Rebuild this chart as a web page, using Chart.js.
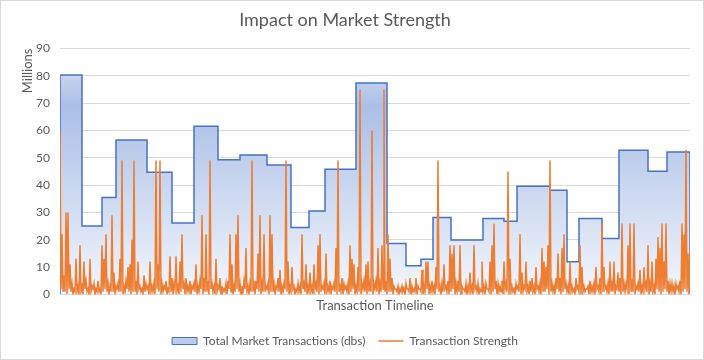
<!DOCTYPE html>
<html>
<head>
<meta charset="utf-8">
<script src="https://cdn.jsdelivr.net/npm/chart.js@4.4.0/dist/chart.umd.min.js"></script>
<style>
  html, body { margin: 0; padding: 0; background: #fff; }
</style>
</head>
<body>
<canvas id="strengthChart" width="704" height="360"></canvas>
<script>
// market transactions, in millions: each step starts at a timeline position
const stepStarts = [0, 22, 42, 56, 87, 112, 134, 158, 180, 207, 231, 249, 265, 296, 327,
                    346, 361, 373, 391, 423, 444, 457, 490, 507, 519, 542, 559, 588, 607]
const stepValues = [80.3, 25, 35.5, 56.5, 44.7, 26.1, 61.6, 49.3, 51, 47.4, 24.5, 30.5, 45.8, 77.4, 18.6,
                    10.5, 12.9, 28.2, 19.9, 27.8, 26.8, 39.6, 38.1, 12, 27.8, 20.5, 52.8, 45.1, 52.1]
const timelineEnd = 630

// transaction strength, one value per timeline position
const strength = [
  60,2, 22,1, 7,1, 30,0, 30,2, 11,1, 4,0, 2,1, 13,1, 3,0,
  18,1, 3,0, 12,2, 5,1, 2,0, 13,1, 3,2, 4,0, 2,1, 5,1,
  2,0, 18,1, 13,2, 22,1, 4,0, 3,1, 29,1, 8,0, 3,2, 4,1,
  13,1, 49,0, 3,1, 5,2, 10,1, 11,0, 20,1, 49,1, 5,0, 12,2,
  3,1, 2,0, 7,1, 4,2, 3,0, 12,1, 3,1, 4,0, 49,2, 11,1,
  49,0, 4,1, 3,2, 5,0, 2,1, 14,1, 6,0, 4,2, 14,1, 3,0,
  12,1, 22,2, 4,0, 6,1, 3,1, 5,0, 3,2, 4,1, 11,0, 3,1,
  5,2, 29,0, 6,1, 22,1, 5,0, 49,2, 4,1, 3,0, 13,1, 3,2,
  6,0, 3,1, 2,1, 4,0, 5,2, 22,1, 11,0, 3,1, 22,2, 29,1,
  4,0, 3,1, 5,2, 17,1, 3,0, 4,1, 49,1, 5,0, 5,2, 15,1,
  29,0, 4,1, 22,1, 3,2, 4,0, 29,1, 22,1, 4,0, 3,2, 6,1,
  9,0, 3,1, 4,2, 49,1, 12,0, 3,1, 10,2, 3,0, 2,1, 4,1,
  3,0, 22,2, 4,1, 11,0, 3,1, 8,1, 3,0, 11,2, 4,1, 18,0,
  22,1, 3,2, 4,0, 15,1, 3,1, 5,0, 3,2, 4,1, 17,0, 49,1,
  3,1, 6,0, 4,2, 3,1, 4,0, 18,1, 13,2, 11,0, 3,1, 10,1,
  75,0, 4,2, 5,1, 11,0, 12,1, 4,1, 60,0, 4,2, 5,1, 17,0,
  4,1, 18,2, 75,1, 5,0, 22,1, 13,1, 6,0, 3,2, 2,1, 3,0,
  2,1, 3,1, 2,0, 4,2, 2,1, 6,0, 3,1, 2,1, 6,0, 3,2,
  2,1, 9,0, 3,1, 12,2, 12,0, 3,1, 5,1, 3,0, 10,2, 49,1,
  3,0, 4,1, 11,2, 3,1, 5,0, 18,1, 15,2, 18,0, 4,1, 5,1,
  18,0, 3,2, 2,1, 4,0, 3,1, 8,1, 3,0, 18,2, 3,1, 4,0,
  2,1, 12,1, 3,0, 4,2, 2,1, 12,0, 18,1, 26,2, 5,0, 4,1,
  3,1, 5,0, 12,2, 4,1, 45,0, 13,1, 3,1, 2,0, 4,2, 3,1,
  22,0, 8,1, 3,2, 12,1, 3,0, 5,1, 6,1, 3,0, 10,2, 3,1,
  4,0, 17,1, 12,1, 10,2, 18,0, 49,1, 4,1, 3,0, 6,2, 15,1,
  6,0, 17,1, 22,2, 4,1, 3,0, 12,1, 3,1, 2,0, 6,2, 3,1,
  18,0, 10,1, 3,1, 2,2, 3,0, 5,1, 3,1, 4,0, 10,2, 3,1,
  6,0, 26,1, 10,2, 3,1, 4,0, 12,1, 4,1, 12,0, 3,2, 8,1,
  6,0, 26,1, 4,1, 4,2, 18,0, 26,1, 4,1, 26,0, 3,2, 4,1,
  9,0, 3,1, 10,2, 4,1, 18,0, 4,1, 12,1, 3,0, 13,2, 21,1,
  17,0, 26,1, 12,2, 26,1, 5,0, 4,1, 4,1, 3,0, 4,2, 3,1,
  5,0, 26,1, 22,2, 53,1, 15,0, 17
]

const yTicks = [0, 10, 20, 30, 40, 50, 60, 70, 80, 90]

const seriesNames = ['Total Market Transactions (dbs)', 'Transaction Strength']
const textColor = '#595959'
const fontFamily = 'Lato, "Liberation Sans", sans-serif'

// build the step outline, closed down to zero at both ends
const stepPoints = [{x: stepStarts[0], y: 0}]
stepStarts.forEach((s, i) => stepPoints.push({x: s, y: stepValues[i]}))
stepPoints.push({x: timelineEnd, y: stepValues[stepValues.length - 1]})
stepPoints.push({x: timelineEnd, y: 0})

const strengthPoints = strength.map((v, i) => ({x: i, y: v}))

function areaGradient(context) {
    const chart = context.chart
    const area = chart.chartArea
    if (!area) return '#b4c7e7'
    const top = chart.scales.y.getPixelForValue(Math.max(...stepValues))
    const g = chart.ctx.createLinearGradient(0, top, 0, area.bottom)
    g.addColorStop(0, '#c6d3ee')
    g.addColorStop(0.14, '#abbfe6')
    g.addColorStop(1, '#f3f6fc')
    return g
}

const frame = {
    id: 'frame',
    beforeDraw(chart) {
        const c = chart.ctx
        c.save()
        c.fillStyle = '#ffffff'
        c.fillRect(0, 0, chart.width, chart.height)
        c.restore()
    },
    afterDraw(chart) {
        const c = chart.ctx
        c.save()
        c.strokeStyle = '#d9d9d9'
        c.lineWidth = 1
        c.strokeRect(0.5, 0.5, chart.width - 1, chart.height - 1)
        c.restore()
    }
}

const config = {
    type: 'line',
    data: {
        datasets: [{
            label: seriesNames[0],
            data: stepPoints,
            stepped: true,
            fill: 'origin',
            backgroundColor: areaGradient,
            borderColor: '#4472c4',
            borderWidth: 1.5,
            pointRadius: 0,
            order: 2
        }, {
            label: seriesNames[1],
            data: strengthPoints,
            fill: false,
            borderColor: '#ed7d31',
            borderWidth: 1.5,
            pointRadius: 0,
            tension: 0,
            order: 1
        }]
    },
    options: {
        responsive: false,
        animation: false,
        devicePixelRatio: 1,
        layout: { padding: { left: 0, right: 14, top: 0, bottom: 3 } },
        plugins: {
            title: {
                display: true,
                text: 'Impact on Market Strength',
                color: textColor,
                font: { family: fontFamily, size: 18, weight: 'normal' },
                padding: { top: 9, bottom: 18 }
            },
            legend: {
                position: 'bottom',
                labels: {
                    color: textColor,
                    font: { family: fontFamily, size: 12 },
                    usePointStyle: true,
                    pointStyleWidth: 25,
                    boxHeight: 7,
                    padding: 13,
                    generateLabels: function(chart) {
                        return chart.data.datasets.map((ds, i) => ({
                            text: ds.label,
                            datasetIndex: i,
                            fillStyle: i == 0 ? '#bccbea' : '#ed7d31',
                            strokeStyle: i == 0 ? '#4472c4' : '#ed7d31',
                            lineWidth: i == 0 ? 1 : 1.5,
                            pointStyle: i == 0 ? 'rect' : 'line',
                            fontColor: textColor,
                            hidden: false
                        }))
                    }
                }
            },
            tooltip: { enabled: false }
        },
        scales: {
            x: {
                type: 'linear',
                min: 0,
                max: timelineEnd,
                ticks: { display: false },
                grid: { display: false, drawTicks: false },
                border: { display: true, color: '#d9d9d9' },
                title: {
                    display: true,
                    text: 'Transaction Timeline',
                    color: textColor,
                    font: { family: fontFamily, size: 13 },
                    padding: { top: 4, bottom: 8 }
                }
            },
            y: {
                min: 0,
                max: 90,
                afterBuildTicks: function(scale) {
                    scale.ticks = yTicks.map(v => ({value: v}))
                },
                afterFit: function(scale) { scale.width = 60 },
                ticks: {
                    color: textColor,
                    font: { family: fontFamily, size: 12 },
                    padding: 10
                },
                grid: { color: '#d9d9d9', drawTicks: false },
                border: { display: false },
                title: {
                    display: true,
                    text: 'Millions',
                    align: 'end',
                    color: textColor,
                    font: { family: fontFamily, size: 13 },
                    padding: { top: 20, bottom: 0 }
                }
            }
        }
    },
    plugins: [frame]
}

const strengthChart = new Chart(document.getElementById('strengthChart'), config)
</script>
</body>
</html>
